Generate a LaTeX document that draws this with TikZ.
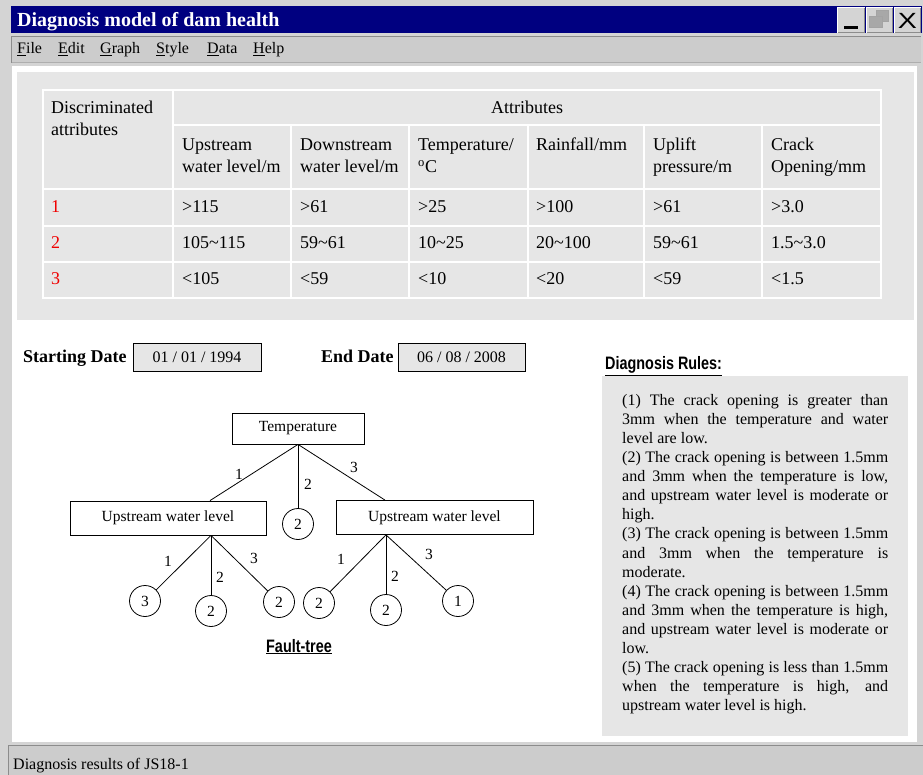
\documentclass[tikz,border=0pt]{standalone}
\usepackage{fontspec}
\setmainfont{Liberation Serif}
\newfontfamily\narrowsans[FakeStretch=0.8]{Liberation Sans}
\newfontfamily\plainsans{Liberation Sans}
\definecolor{navybar}{HTML}{000080}
\definecolor{framegray}{HTML}{D4D4D4}
\definecolor{menugray}{HTML}{CCCCCC}
\definecolor{panelgray}{HTML}{E6E6E6}
\definecolor{edgegray}{HTML}{8C8C8C}
\definecolor{redtxt}{HTML}{F00000}
\definecolor{iconx}{HTML}{A8A8A8}
\newcommand{\fsTable}{\fontsize{18}{22}\selectfont}
\newcommand{\fsRule}{\fontsize{16}{19}\selectfont}
\newcommand{\fsTree}{\fontsize{15.5}{18}\selectfont}
\newcommand{\fsMenu}{\fontsize{16}{19}\selectfont}
\newcommand{\fsTitle}{\fontsize{20}{24}\selectfont}
\newcommand{\fsDate}{\fontsize{16}{19}\selectfont}
\newcommand{\fsHead}{\fontsize{18}{22}\selectfont}
\newcommand{\rl}[1]{\makebox[266pt][s]{#1}}
\begin{document}
\begin{tikzpicture}[x=1pt,y=-1pt,
  tcell/.style={anchor=base west, font=\fsTable, inner sep=0pt},
  redcell/.style={tcell, text=redtxt},
  ruleline/.style={anchor=base west, font=\fsRule, inner sep=0pt},
  menuitem/.style={anchor=base west, font=\fsMenu, inner sep=0pt},
  treebox/.style={draw, line width=0.8pt, fill=white, font=\fsTree, inner sep=0pt},
  leaf/.style={circle, draw, line width=0.8pt, fill=white, minimum size=31pt, inner sep=0pt, font=\fsTree},
  edgelab/.style={font=\fsTree, inner sep=0pt},
  branch/.style={line width=0.8pt},
  datebox/.style={draw, line width=0.8pt, fill=panelgray, minimum height=28pt, inner sep=0pt, font=\fsDate},
  datelabel/.style={anchor=base west, font=\fsHead\bfseries, inner sep=0pt},
  sanshead/.style={font=\narrowsans\bfseries\fontsize{18}{20}\selectfont, inner sep=0pt},
  winbtn/.style={fill=framegray}
]
\useasboundingbox (0,0) rectangle (923,775);
% window frame
\fill[framegray] (0,0) rectangle (923,775);
\fill[navybar] (11,6) rectangle (922,33);
\node[anchor=base west, font=\fsTitle\bfseries, text=white, inner sep=0pt] (title) at (17,27) {Diagnosis model of dam health};
% buttons
\foreach \xa/\xb in {837/865, 866/893, 894/921}{
  \fill[winbtn] (\xa,7) rectangle (\xb,33);
  \draw[white, line width=1pt] (\xa+0.5,33) -- (\xa+0.5,7.5) -- (\xb,7.5);
  \draw[edgegray, line width=1pt] (\xa+1,32.5) -- (\xb-0.5,32.5) -- (\xb-0.5,8);
}
\fill[black] (844,26) rectangle (858,29.5);
\draw[edgegray!80, fill=iconx] (876,10) rectangle (888,21);
\draw[edgegray!80, fill=iconx] (869,16) rectangle (882,27);
\node[font=\plainsans\fontsize{22}{22}\selectfont, inner sep=0pt] (closex) at (907.5,20.5) {\scalebox{1.3}[1]{X}};
% menu bar
\fill[menugray] (11,36) rectangle (921,63);
\draw[edgegray, line width=1.2pt] (11.5,63) -- (11.5,36.5) -- (921,36.5);
\draw[edgegray!70, line width=1.2pt] (11.5,62.5) -- (921,62.5);
\node[menuitem] (mfile) at (17,54) {\underline{F}ile};
\node[menuitem] (medit) at (58,54) {\underline{E}dit};
\node[menuitem] (mgraph) at (100,54) {\underline{G}raph};
\node[menuitem] (mstyle) at (156,54) {\underline{S}tyle};
\node[menuitem] (mdata) at (207,54) {\underline{D}ata};
\node[menuitem] (mhelp) at (253,54) {\underline{H}elp};
% main white panel
\fill[white] (12,66) rectangle (917,742);
% table panel
\fill[panelgray] (17,72) rectangle (914,320);
\begin{scope}[white, line width=2.5pt]
  \draw (43,90) rectangle (881,298);
  \draw (173,90) -- (173,298);
  \foreach \xx in {291,409,528,644,762} \draw (\xx,125) -- (\xx,298);
  \draw (173,125) -- (881,125);
  \foreach \yy in {189,226,262} \draw (43,\yy) -- (881,\yy);
\end{scope}
\node[tcell] (h1a) at (51,114) {Discriminated};
\node[tcell] (h1b) at (51,136) {attributes};
\node[tcell, anchor=base] (hattr) at (527,114) {Attributes};
\node[tcell] (c2a) at (182,151) {Upstream};
\node[tcell] (c2b) at (182,173) {water level/m};
\node[tcell] (c3a) at (300,151) {Downstream};
\node[tcell] (c3b) at (300,173) {water level/m};
\node[tcell] (c4a) at (418,151) {Temperature/};
\node[tcell] (c4b) at (418,173) {\textsuperscript{o}C};
\node[tcell] (c5a) at (536,151) {Rainfall/mm};
\node[tcell] (c6a) at (653,151) {Uplift};
\node[tcell] (c6b) at (653,173) {pressure/m};
\node[tcell] (c7a) at (771,151) {Crack};
\node[tcell] (c7b) at (771,173) {Opening/mm};
% row 1
\node[redcell] (r1) at (51,213) {1};
\node[tcell] (r1a) at (182,213) {>115};
\node[tcell] (r1b) at (300,213) {>61};
\node[tcell] (r1c) at (418,213) {>25};
\node[tcell] (r1d) at (536,213) {>100};
\node[tcell] (r1e) at (653,213) {>61};
\node[tcell] (r1f) at (771,213) {>3.0};
% row 2
\node[redcell] (r2) at (51,249) {2};
\node[tcell] (r2a) at (182,249) {105\textasciitilde115};
\node[tcell] (r2b) at (300,249) {59\textasciitilde61};
\node[tcell] (r2c) at (418,249) {10\textasciitilde25};
\node[tcell] (r2d) at (536,249) {20\textasciitilde100};
\node[tcell] (r2e) at (653,249) {59\textasciitilde61};
\node[tcell] (r2f) at (771,249) {1.5\textasciitilde3.0};
% row 3
\node[redcell] (r3) at (51,285) {3};
\node[tcell] (r3a) at (182,285) {<105};
\node[tcell] (r3b) at (300,285) {<59};
\node[tcell] (r3c) at (418,285) {<10};
\node[tcell] (r3d) at (536,285) {<20};
\node[tcell] (r3e) at (653,285) {<59};
\node[tcell] (r3f) at (771,285) {<1.5};
% dates
\node[datelabel] (sdl) at (23,362) {Starting Date};
\node[datebox, minimum width=128pt] (sdb) at (197,357) {01 / 01 / 1994};
\node[datelabel] (edl) at (321,362) {End Date};
\node[datebox, minimum width=127pt] (edb) at (461.5,357) {06 / 08 / 2008};
% rules
\node[sanshead, anchor=base west] (drh) at (605,370) {\underline{Diagnosis Rules:}};
\fill[panelgray] (602,376) rectangle (908,736);
\node[ruleline] (l1) at (622,405.5) {\rl{(1) The crack opening is greater than}};
\node[ruleline] (l2) at (622,424.6) {\rl{3mm when the temperature and water}};
\node[ruleline] (l3) at (622,443.6) {level are low.};
\node[ruleline] (l4) at (622,462.7) {\rl{(2) The crack opening is between 1.5mm}};
\node[ruleline] (l5) at (622,481.7) {\rl{and 3mm when the temperature is low,}};
\node[ruleline] (l6) at (622,500.8) {\rl{and upstream water level is moderate or}};
\node[ruleline] (l7) at (622,519.9) {high.};
\node[ruleline] (l8) at (622,538.9) {\rl{(3) The crack opening is between 1.5mm}};
\node[ruleline] (l9) at (622,558.0) {\rl{and 3mm when the temperature is}};
\node[ruleline] (l10) at (622,577.0) {moderate.};
\node[ruleline] (l11) at (622,596.1) {\rl{(4) The crack opening is between 1.5mm}};
\node[ruleline] (l12) at (622,615.2) {\rl{and 3mm when the temperature is high,}};
\node[ruleline] (l13) at (622,634.2) {\rl{and upstream water level is moderate or}};
\node[ruleline] (l14) at (622,653.3) {low.};
\node[ruleline] (l15) at (622,672.3) {\rl{(5) The crack opening is less than 1.5mm}};
\node[ruleline] (l16) at (622,691.4) {\rl{when the temperature is high, and}};
\node[ruleline] (l17) at (622,710.5) {upstream water level is high.};
% fault tree
\node[treebox, minimum width=132pt, minimum height=31pt] (temp) at (298,428.5) {Temperature};
\node[treebox, minimum width=196pt, minimum height=34pt] (lbox) at (168,518) {Upstream water level};
\node[treebox, minimum width=197pt, minimum height=34pt] (rbox) at (434.5,517.5) {Upstream water level};
\node[leaf] (cmid) at (298,524) {2};
\node[leaf] (la) at (145,601) {3};
\node[leaf] (lb) at (211,611) {2};
\node[leaf] (lc) at (279,602) {2};
\node[leaf] (ra) at (319,603) {2};
\node[leaf] (rb) at (386,610) {2};
\node[leaf] (rc) at (458,601) {1};
\coordinate (ltop) at ([xshift=42pt]lbox.north);
\coordinate (rtop) at ([xshift=-49.5pt]rbox.north);
\coordinate (lroot) at ([xshift=43pt]lbox.south);
\coordinate (rroot) at ([xshift=-48.5pt]rbox.south);
\draw[branch] (temp.south) -- (ltop);
\draw[branch] (temp.south) -- (cmid);
\draw[branch] (temp.south) -- (rtop);
\draw[branch] (lroot) -- (la);
\draw[branch] (lroot) -- (lb);
\draw[branch] (lroot) -- (lc);
\draw[branch] (rroot) -- (ra);
\draw[branch] (rroot) -- (rb);
\draw[branch] (rroot) -- (rc);
\node[edgelab] (e1) at (239,474) {1};
\node[edgelab] (e2) at (308,484) {2};
\node[edgelab] (e3) at (354,467) {3};
\node[edgelab] (el1) at (168,561) {1};
\node[edgelab] (el2) at (220,577) {2};
\node[edgelab] (el3) at (254,558) {3};
\node[edgelab] (er1) at (341,559) {1};
\node[edgelab] (er2) at (395,576) {2};
\node[edgelab] (er3) at (429,554) {3};
\node[sanshead, anchor=base] (ft) at (299,652) {\underline{Fault-tree}};
% status bar
\fill[menugray] (8,745) rectangle (923,775);
\draw[edgegray, line width=1.2pt] (8.5,775) -- (8.5,745.5) -- (923,745.5);
\node[anchor=base west, font=\fsMenu, inner sep=0pt] (status) at (13,769) {Diagnosis results of JS18-1};
\end{tikzpicture}
\end{document}
